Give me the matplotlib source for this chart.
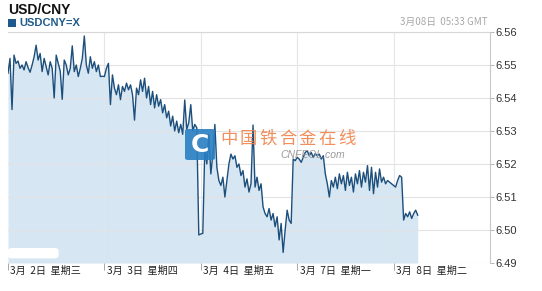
import numpy as np
import matplotlib
matplotlib.use("Agg")
import matplotlib.pyplot as plt
from matplotlib.patches import FancyBboxPatch, Rectangle

plt.rcParams['font.family'] = ['Noto Sans CJK SC', 'DejaVu Sans']

# USD/CNY, one sample every 30 minutes of trading time, starting 3月2日 00:00
rate = [
    6.5475, 6.5520, 6.5365, 6.5530, 6.5505, 6.5512, 6.5490, 6.5500, 6.5485, 6.5510,
    6.5492, 6.5478, 6.5500, 6.5525, 6.5560, 6.5515, 6.5535, 6.5480, 6.5520, 6.5495,
    6.5470, 6.5510, 6.5490, 6.5400, 6.5530, 6.5505, 6.5482, 6.5396, 6.5515, 6.5500,
    6.5470, 6.5490, 6.5558, 6.5480, 6.5500, 6.5465, 6.5490, 6.5520, 6.5588, 6.5500,
    6.5475, 6.5525, 6.5490, 6.5510, 6.5480, 6.5500, 6.5465, 6.5466, 6.5465, 6.5490,
    6.5505, 6.5380, 6.5470, 6.5430, 6.5410, 6.5440, 6.5395, 6.5435, 6.5420, 6.5445,
    6.5425, 6.5440, 6.5410, 6.5333, 6.5430, 6.5410, 6.5455, 6.5420, 6.5460, 6.5400,
    6.5435, 6.5380, 6.5420, 6.5370, 6.5410, 6.5375, 6.5395, 6.5355, 6.5380, 6.5340,
    6.5360, 6.5315, 6.5345, 6.5300, 6.5330, 6.5295, 6.5320, 6.5290, 6.5394, 6.5305,
    6.5325, 6.5380, 6.5300, 6.5320, 6.5310, 6.4985, 6.4988, 6.4990, 6.5250, 6.5200,
    6.5290, 6.5170, 6.5230, 6.5320, 6.5190, 6.5150, 6.5135, 6.5160, 6.5100, 6.5150,
    6.5200, 6.5230, 6.5215, 6.5225, 6.5190, 6.5200, 6.5165, 6.5180, 6.5130, 6.5155,
    6.5115, 6.5140, 6.5318, 6.5130, 6.5160, 6.5120, 6.5140, 6.5070, 6.5050, 6.5040,
    6.5065, 6.5030, 6.5050, 6.5010, 6.5040, 6.4970, 6.5020, 6.4932, 6.5000, 6.5060,
    6.5030, 6.5020, 6.5215, 6.5210, 6.5220, 6.5215, 6.5205, 6.5220, 6.5235, 6.5240,
    6.5225, 6.5235, 6.5220, 6.5232, 6.5225, 6.5230, 6.5215, 6.5225, 6.5170, 6.5140,
    6.5100, 6.5150, 6.5130, 6.5160, 6.5125, 6.5170, 6.5140, 6.5165, 6.5120, 6.5175,
    6.5135, 6.5160, 6.5115, 6.5170, 6.5140, 6.5180, 6.5130, 6.5175, 6.5145, 6.5195,
    6.5120, 6.5190, 6.5110, 6.5175, 6.5130, 6.5185, 6.5145, 6.5160, 6.5140, 6.5150,
    6.5145, 6.5140, 6.5135, 6.5130, 6.5150, 6.5165, 6.5160, 6.5030, 6.5050, 6.5040,
    6.5055, 6.5035, 6.5050, 6.5060, 6.5045,
]
step_hours = 0.5
hours = np.arange(len(rate)) * step_hours

day_labels = ['3月  2日  星期三', '3月  3日  星期四', '3月  4日  星期五',
              '3月  7日  星期一', '3月  8日  星期二']
day_starts = [0, 24, 48, 72, 96]
y_ticks = [6.49, 6.50, 6.51, 6.52, 6.53, 6.54, 6.55, 6.56]

W, H = 542, 291
fig = plt.figure(figsize=(W / 100, H / 100), dpi=100)
ax = fig.add_axes([8 / W, 1 - 263 / H, 482 / W, 231 / H])

ax.fill_between(hours, rate, 6.49, color='#d6e6f2', lw=0, zorder=1)
ax.plot(hours, rate, color='#1d4f7c', lw=1.0, zorder=3)

ax.set_xlim(0, 120)
ax.set_ylim(6.49, 6.56)

for y in y_ticks:
    ax.axhline(y, color='#e3e3e3', lw=0.8, zorder=2)
for d in day_starts[1:]:
    ax.axvline(d, color='#dfe6ec', lw=0.8, zorder=2)

for s in ['top', 'bottom', 'left']:
    ax.spines[s].set_visible(False)
ax.spines['right'].set_color('#c8c8c8')
ax.spines['right'].set_linewidth(0.8)

ax.yaxis.tick_right()
ax.set_yticks(y_ticks)
ax.set_yticklabels([f'{v:.2f}' for v in y_ticks], fontsize=8, color='#333333',
                   family='Liberation Sans')
ax.tick_params(axis='y', length=3, width=0.6, color='#aaaaaa', pad=1)

ax.set_xticks(day_starts)
ax.set_xticklabels([])
ax.tick_params(axis='x', length=5, width=0.6, color='#999999')
for d, lab in zip(day_starts, day_labels):
    ax.text(d + 0.6, -0.012, lab, transform=ax.get_xaxis_transform(), ha='left',
            va='top', fontsize=7.3, color='#222222')

# top border line
ax.plot([0, 1], [1, 1], transform=ax.transAxes, color='#d8d8d8', lw=0.8, clip_on=False)

# white box bottom-left
ax.add_patch(FancyBboxPatch((0.0, 0.02), 0.105, 0.045, transform=ax.transAxes,
                            boxstyle='round,pad=0,rounding_size=0.01',
                            fc='white', ec='none', zorder=4))

# watermark
ax.add_patch(FancyBboxPatch((185 / W, 1 - 160 / H), 30 / W, 31 / H,
                            transform=fig.transFigure,
                            boxstyle='round,pad=0,rounding_size=0.006',
                            fc='#2a7fc2', ec='none', alpha=0.9, zorder=5))
fig.text(200 / W, 1 - 145 / H, 'C', fontsize=18, fontweight='bold', color='white',
         ha='center', va='center', family='DejaVu Sans', zorder=6)
for k, ch in enumerate('中国铁合金在线'):
    fig.text((229 + 19.6 * k) / W, 1 - 139 / H, ch, fontsize=12.5, color='#f0834a',
             ha='center', va='center', alpha=0.9, zorder=6)
fig.text(280 / W, 1 - 155 / H, 'CNFEOL.com', fontsize=7.5, color='#9a9a9a',
         style='italic', ha='left', va='center', family='Liberation Sans', zorder=6)

# header
fig.text(8 / W, 1 - 10 / H, 'USD/CNY', fontsize=10, fontweight='bold', color='#111111',
         ha='left', va='center', family='Liberation Sans')
fig.patches.append(Rectangle((8 / W, 1 - 27 / H), 8 / W, 8 / H, transform=fig.transFigure,
                             fc='#1f5a8c', ec='none'))
fig.text(19 / W, 1 - 23 / H, 'USDCNY=X', fontsize=8, fontweight='bold', color='#1f5a8c',
         ha='left', va='center', family='Liberation Sans')
fig.text(488 / W, 1 - 22 / H, '3月08日  05:33 GMT', fontsize=7, color='#a8a8a8',
         ha='right', va='center')

fig.savefig('out.png', dpi=100)
